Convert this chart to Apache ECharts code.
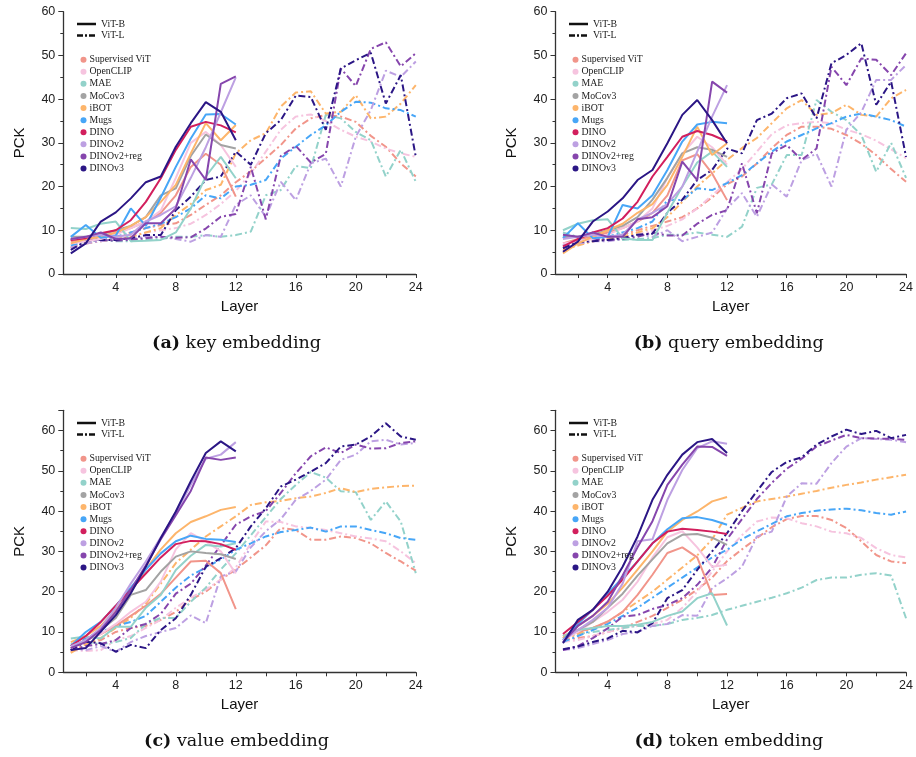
<!DOCTYPE html>
<html><head><meta charset="utf-8">
<script src="https://cdn.jsdelivr.net/npm/echarts@6/dist/echarts.min.js"></script>
<style>html,body{margin:0;padding:0;background:#fff}#c{width:916px;height:757px}</style>
</head><body><div id="c"></div>
<script>
const layersB = [1,2,3,4,5,6,7,8,9,10,11,12];
const layersL = [1,2,3,4,5,6,7,8,9,10,11,12,13,14,15,16,17,18,19,20,21,22,23,24];
const methods = ['Supervised ViT','OpenCLIP','MAE','MoCov3','iBOT','Mugs','DINO','DINOv2','DINOv2+reg','DINOv3'];
const methodColors = ['#F1958A','#F6C4DF','#93D2CA','#A3A3A3','#FDB56B','#47A6F7','#D21F5D','#BDA0E2','#8646AD','#2B1685'];
const xTickLabels = [4,8,12,16,20,24];
const xTickMarks = [2,4,6,8,10,12,14,16,18,20,22,24];
const yTickLabels = [0,10,20,30,40,50,60];
const panelTitles = [['(a)','key embedding'],['(b)','query embedding'],['(c)','value embedding'],['(d)','token embedding']];

// ---- (a) key embedding ----
const keyB = [
 [7.5,8,8.5,9.5,10.5,12,14,18,24.5,27.5,25,17.7],
 [7,7.5,8,9,10.5,12,14.5,22,30,32.5,29.5,24.5],
 [10.5,10.3,11.5,12,7.5,7.6,7.8,9.5,15,22.3,26.8,21.9],
 [8.5,8.5,9,10,11,13,18,19.6,27,31.9,29.5,28.7],
 [7,8,8.5,9.5,11,13,16.5,20.4,27.6,34.5,30.6,34.1],
 [8.5,11.2,8.3,8.8,15,11,17.5,24.5,31,36.5,36.6,34.2],
 [7.8,8.2,9.3,10,12.3,16.5,21.9,28.4,33.7,34.8,34,32.4],
 [8,8.5,9,8.5,9,12,13.5,15.5,22,29,37,45],
 [8,8.5,9.5,8,8.2,11.6,11.6,15,26.2,21.5,43.5,45.2],
 [4.7,7,12,14.1,17.3,21,22.3,29.1,34.5,39.3,37.1,30.6]
];
const keyL = [
 [6,7.5,8,8.5,9.5,10.5,11.2,11.6,13.5,15.8,18,21,23.5,26.5,29.5,33.3,35.6,36.4,36,34.8,31.6,29.1,25.3,22.3],
 [6,7,7.5,8,8.5,9.5,10,10.5,11.5,13.5,16,19,23,28,33,36,36.5,35,33,31.4,30.3,28.7,27.6,26.8],
 [8,8,7.8,7.5,7.5,7.8,8,8.5,8.5,8.9,8.5,8.9,9.7,18,19.2,24.7,24.2,36.4,35.6,32.5,30.6,22.3,28.4,21.1],
 null,
 [6,7,7.5,8,8.5,9.5,10.5,13.5,16,19.2,20.4,27.6,30.6,32.2,38.3,41.5,41.8,36.7,37.1,40.9,35.6,36,39,43.2],
 [6.5,7.5,8,8.5,9.5,10.5,11.5,13,15,18,17.3,20,20.4,21.5,26.4,29.1,31.8,34,37.1,39.4,39.2,37.9,37.5,36],
 null,
 [6,7,7.5,8,8,8.5,8.5,8,7.4,8.9,8.5,15.8,18,13.1,21.1,16.9,25.3,26.4,20,31.4,37.5,46.5,45.1,48.6],
 [7.8,8,7.8,7.6,7.8,8.2,8.5,8.3,8.4,10.4,13.1,13.7,24.5,12.5,27,29.3,25.5,27.5,47,43,51.5,53,47.5,50.5],
 [5.5,7.5,7.8,7.8,8.2,8.9,8.9,14.6,17.7,21.5,22.3,28,25,32.2,35.2,40.8,40.5,33,47,48.9,50.6,39,45.5,26.8]
];
// ---- (b) query embedding ----
const queryB = [
 [7,8,8.5,9.5,10.5,12,14,18,26,27.4,23,16.9],
 [7,7.5,8,9,10.5,12,15,22,27.5,31.4,29,25],
 [10,11.5,12.3,12.5,8.2,7.8,7.8,14,20,25.5,28,24.5],
 [8.5,8.5,9,10,11,13,17,22,27.6,29,28.4,26.8],
 [4.7,7,8.5,10,11.5,14,16,20.4,26.8,33.7,27.2,29.9],
 [8.2,11.6,8.2,8.5,15.8,15,18,23.8,30.3,34.2,34.8,34.5],
 [6.3,8,9.5,10.5,12.7,16.5,22.3,26.8,31.4,32.7,31.8,30.3],
 [8,8.5,9,8.5,9,12.5,14,16,20,28,36,43.2],
 [9,8.5,9.5,8.5,8.5,12.5,13,15.5,25.7,21.5,44,41.5],
 [5.1,7.4,12,14.3,17.3,21.5,23.8,29.9,36.4,39.8,35.2,29.9]
];
const queryL = [
 [6,7,7.5,8,9,10,11,12,13,15,17.5,20.5,22.3,25.3,28.8,31.8,33.7,33.7,33.2,31.8,29.8,27.2,24,21.1],
 [6,7,7.5,8,8.5,9,10,11,12.5,15,18,21,24,28,32,34,34.5,34.8,34.5,33,32,30.5,28.5,26.5],
 [9.5,8.5,8,8,7.8,8,8.2,9,9,9.5,9,8.5,10.8,19.7,20.5,27.2,27.2,39.8,37.1,35.2,31.8,23.4,30,22],
 null,
 [5.5,6.5,7.5,8,8.5,9.5,10.5,13,16.5,20,23,26.1,28.8,31.1,34.5,37.9,39.8,36.4,36.8,38.7,36.4,36,40.2,42.1],
 [6.5,7.5,8,8.5,9.5,10.5,12,16.9,16.9,19.6,19.2,20.8,22.6,25.3,28,30.3,31.8,33.3,34.5,36,36.7,36,35.2,33.7],
 null,
 [6.5,7,7.5,7.5,8,9,8.5,10,7.5,8.5,9.5,15,18.5,13.1,20.5,17.7,26,27.5,20,33,37,44.4,44.4,47.8],
 [8.5,8.5,8,7.8,8,8.5,9.5,8.8,8.8,11.5,13.5,14.6,25.3,13.9,27.6,29.5,26.1,28.7,47.4,43.2,49.3,49,45.5,50.5],
 [5.9,7.3,7.5,7.8,8.2,9,9.2,14,17,21.5,23.8,28.7,27.6,35.2,36.7,40.2,41.3,35.6,48.2,50.1,52.8,38.7,44,26.8]
];
// ---- (c) value embedding ----
const valueB = [
 [6,8,9.5,11.5,14,16.5,19.5,23.5,27.5,27.7,24.6,15.7],
 [6,8,9.5,12,15,17.5,22.5,30.5,34.5,32.5,30,24.5],
 [8.4,8.9,8.4,11.3,11.3,16,19.2,25.4,28.9,31.6,31.2,32],
 [6,8,10.5,13.5,19.2,20.4,25,28.7,30,29.6,29.3,28.1],
 [7.5,9,11.5,15.5,20,25.5,30.5,34.5,37.3,38.7,40.3,41],
 [6.5,10,12.5,16.5,21,25.5,29.5,32.5,33.9,33.1,32.9,32.3],
 [6.5,9,12.5,16.5,20.5,24.5,28.5,31.8,32.6,32.5,31.8,30.4],
 [6.5,8,11,16,22,27.5,33.5,39.5,46.5,53,54,57.1],
 [6,7.5,10.5,15,20.5,26.5,33,39,45,53.3,52.7,53.3],
 [5.5,6,10.1,14.2,19.6,26.2,33.3,39.9,47.4,54.4,57.3,54.8]
];
const valueL = [
 [5,7,8,10,11,11.5,13,15,18,20,23,25.5,28.5,31.5,35.8,35.3,32.9,32.9,33.7,33.3,32,29.6,27.5,25.2],
 [5.5,5.3,5.5,8,9,11,13,16,18.5,20.5,23,26,32,37.4,37.3,36.2,35.8,35.3,34.5,33.7,33.2,32.5,30,27.1],
 [7,7.5,7,7.5,8.5,12,13.5,13.5,17.5,21,25.5,29.5,34,38.5,43,46.5,49.7,48.3,44.9,44.7,37.8,42.4,37.4,24.6],
 null,
 [4.8,7,8.5,11,13.5,17,22,27.1,30.4,33.7,36.2,38.7,41.5,42.2,42.5,43.2,43.6,44.5,45.7,44.7,45.5,45.9,46.2,46.3],
 [5.5,8.5,10,11.5,12.5,14,17.5,21,24,26,28,30.4,32,33.7,34.8,35.3,35.9,34.9,36.2,36.2,35.3,34.5,33.3,32.9],
 null,
 [6,5.5,6.5,5.1,7.5,9,10,11,14.1,12.2,23.8,25,31,35,38,42.8,45,47.8,52.7,54,57.3,57.7,56.5,56.9],
 [5.5,6.5,7,8,11,12,14.5,19.5,22,26.5,31.5,36.6,38.7,40,44.5,49.4,53.6,55.8,54.4,56.5,55.5,55.6,56.9,57.3],
 [5.5,7.6,7.2,5.1,6.8,6,10.5,13.4,19.2,26.2,28.3,30.8,36.2,40.7,46.1,47.8,49.8,51.9,56,56.5,58.5,61.8,58.5,57.7]
];
// ---- (d) token embedding ----
const tokenB = [
 [9,10,11,12.6,15,19.2,24.2,29.6,31,28.5,19.2,19.4],
 [8,10,12.5,15,18,22.5,28.5,33.5,35,31,26.2,26.7],
 [9,10.5,11,11.5,11.5,11.8,12.5,14,15.1,18.4,19.6,11.6],
 [8.5,10.5,12.5,16,19.5,24,28,32,34.1,34.3,33.4,31.6],
 [8.5,11.5,14,17,21,25.5,30,34.9,37.8,39.9,42.4,43.5],
 [8,12,15.5,19.5,23.5,27.5,32,35.5,38.2,38.5,37.8,36.6],
 [9.5,12.5,15.5,19,23,27.5,32,34.9,35.6,35.3,34.9,34.3],
 [8,10.5,13,16,22,32.5,33,42.8,50.2,55.6,57.3,56.7],
 [7.5,11.5,14,17.5,24,31,37.5,46.5,51.5,56,55.9,53.7],
 [7.2,13,15.5,20,26.2,33.7,42.8,49,54,57.1,57.9,54.4]
];
const tokenL = [
 [8,8.5,9,10,11,12.5,14,16,18,20.5,23.5,27.6,30.5,33.3,36,38,38.8,38.8,37.8,35.8,32.5,29.1,27.5,27.1],
 [7.5,8,9,10,11,11.5,12,13,16,20,25,30,34,37.4,38.4,38.2,37,36.2,34.9,34.5,33.3,30.8,29.1,28.5],
 [9,9.5,10,10.5,11,11.5,11.5,12,13,13.5,14.2,15.5,16.5,17.5,18.5,19.6,21,22.9,23.5,23.5,24.2,24.6,24,13.4],
 null,
 [8,9.5,11,12.5,15,17.5,20,23,26,29,33,39.1,40.8,42.4,43,43.6,44.3,45,45.8,46.5,47.1,47.8,48.4,49],
 [7.5,9,10.5,12,14,16,18.5,21,23.5,26,28.5,30.4,33,35,36.8,38.7,39.5,40.1,40.4,40.6,40.2,39.5,39.1,39.9],
 null,
 [5.5,6,7,8,9.5,10,11.5,12,14.2,14,20.9,23.3,26.2,33.7,34.9,43.6,46.9,46.8,51.9,56,58.1,57.9,57.7,57.1],
 [5.5,6.5,8.5,10.9,13.8,14.2,15.7,16.7,18.4,21.7,26,33,38,43,47,50.5,53,56,57.5,58.9,58.1,58,57.9,57.7],
 [5.7,6.4,7.5,8.4,10.3,9.9,12.2,18.4,20.4,25.4,30,34.5,40,44.9,49.7,52.2,53.3,56.5,58.5,60.2,59.1,59.9,58.1,58.9]
];

const panelsB = [keyB, queryB, valueB, tokenB];
const panelsL = [keyL, queryL, valueL, tokenL];
const yMax = [60, 60, 65, 65];

// layout (pixels)
const gx = [63.3, 555.5, 63.3, 555.5];
const gTop = [11.7, 11.7, 410.3, 410.3];
const gH = [262.3, 262.3, 262, 262];
const gW = 352.5;
const offX = [0, 492, 0, 492];
const offY = [0, 0, 399, 399];
const capY = [343, 343, 741, 741];

const sans = 'Liberation Sans';
const serif = 'Liberation Serif';

const grid = [], xAxis = [], yAxis = [], series = [], legend = [], graphic = [];
for (let p = 0; p < 4; p++) {
  grid.push({left: gx[p], top: gTop[p], width: gW, height: gH[p], containLabel: false});
  xAxis.push({
    gridIndex: p, type: 'value', min: 0.5, max: 24,
    name: 'Layer', nameLocation: 'middle', nameGap: 25,
    nameTextStyle: {fontFamily: sans, fontSize: 15, color: '#111'},
    axisLine: {show: true, onZero: false, lineStyle: {color: '#333', width: 1.3}},
    axisTick: {show: true, customValues: xTickMarks, length: 4, lineStyle: {color: '#333'}},
    axisLabel: {customValues: xTickLabels, fontFamily: sans, fontSize: 12.5, color: '#222', margin: 7},
    splitLine: {show: false}
  });
  yAxis.push({
    gridIndex: p, type: 'value', min: 0, max: yMax[p], interval: 10,
    name: 'PCK', nameLocation: 'middle', nameGap: 36, nameRotate: 90,
    nameTextStyle: {fontFamily: sans, fontSize: 15, color: '#111'},
    axisLine: {show: true, lineStyle: {color: '#333', width: 1.3}},
    axisTick: {show: true, length: 5, lineStyle: {color: '#333'}},
    minorTick: {show: true, splitNumber: 2, length: 3, lineStyle: {color: '#333'}},
    axisLabel: {customValues: yTickLabels, fontFamily: sans, fontSize: 12.5, color: '#222', margin: 8, showMaxLabel: true},
    splitLine: {show: false}
  });
  for (let m = 0; m < methods.length; m++) {
    const b = panelsB[p][m];
    series.push({
      type: 'line', name: methods[m], xAxisIndex: p, yAxisIndex: p,
      data: layersB.map((l, i) => [l, b[i]]),
      color: methodColors[m], symbol: 'none', showSymbol: false,
      lineStyle: {width: 2, color: methodColors[m], type: 'solid'},
      z: 3, silent: true, animation: false
    });
  }
  for (let m = 0; m < methods.length; m++) {
    const l = panelsL[p][m];
    if (!l) continue;
    series.push({
      type: 'line', name: methods[m], xAxisIndex: p, yAxisIndex: p,
      data: layersL.map((x, i) => [x, l[i]]),
      color: methodColors[m], symbol: 'none', showSymbol: false,
      lineStyle: {width: 2, color: methodColors[m], type: [7, 3, 2, 3]},
      z: 2, silent: true, animation: false
    });
  }
  legend.push({
    left: 75.5 + offX[p], top: 48.6 + offY[p], orient: 'vertical',
    icon: 'circle', itemWidth: 6, itemHeight: 6, itemGap: 0,
    selectedMode: false, data: methods,
    itemStyle: {borderWidth: 0},
    textStyle: {fontFamily: serif, fontSize: 9.8, lineHeight: 12.1, color: '#222', padding: [0, 0, 0, -2]}
  });
  // ViT-B / ViT-L key
  graphic.push({type: 'line', shape: {x1: 77 + offX[p], y1: 24 + offY[p], x2: 96 + offX[p], y2: 24 + offY[p]},
    style: {stroke: '#111', lineWidth: 2.5}});
  graphic.push({type: 'line', shape: {x1: 77 + offX[p], y1: 35.5 + offY[p], x2: 96 + offX[p], y2: 35.5 + offY[p]},
    style: {stroke: '#111', lineWidth: 2.5, lineDash: [6, 2, 2, 2]}});
  graphic.push({type: 'text', x: 101 + offX[p], y: 24 + offY[p],
    style: {text: 'ViT-B', font: '9.8px "Liberation Serif"', fill: '#222', verticalAlign: 'middle'}});
  graphic.push({type: 'text', x: 101 + offX[p], y: 35.5 + offY[p],
    style: {text: 'ViT-L', font: '9.8px "Liberation Serif"', fill: '#222', verticalAlign: 'middle'}});
  // caption
  graphic.push({type: 'text', x: gx[p] + gW / 2 - 3, y: capY[p],
    style: {text: '{b|' + panelTitles[p][0] + '} ' + panelTitles[p][1],
      rich: {b: {fontFamily: 'DejaVu Serif', fontSize: 17.5, fontWeight: 'bold', fill: '#111'}},
      fontFamily: 'DejaVu Serif', fontSize: 17.5, fill: '#111', align: 'center', verticalAlign: 'middle'}});
}

const chart = echarts.init(document.getElementById('c'), null, {renderer: 'canvas'});
chart.setOption({
  backgroundColor: '#fff', animation: false,
  grid, xAxis, yAxis, series, legend, graphic
});
</script></body></html>
